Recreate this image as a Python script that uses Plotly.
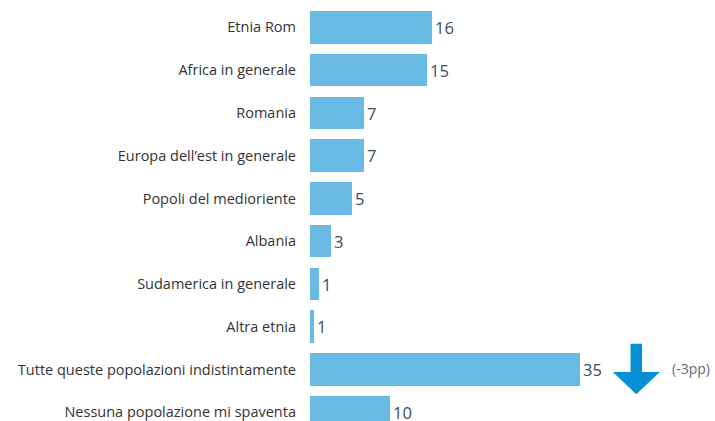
import plotly.graph_objects as go

categories = [
    "Etnia Rom",
    "Africa in generale",
    "Romania",
    "Europa dell\u2019est in generale",
    "Popoli del medioriente",
    "Albania",
    "Sudamerica in generale",
    "Altra etnia",
    "Tutte queste popolazioni indistintamente",
    "Nessuna popolazione mi spaventa",
]
values = [15.8, 15.2, 7.0, 7.0, 5.4, 2.7, 1.2, 0.5, 35.0, 10.4]
value_labels = ["16", "15", "7", "7", "5", "3", "1", "1", "35", "10"]
change_label = "(-3pp)"
change_category = "Tutte queste popolazioni indistintamente"

BAR = "#69bbe6"
ARROW = "#0890d6"
FONT = "Open Sans"

fig = go.Figure()
fig.add_trace(go.Bar(
    y=categories, x=values, orientation="h",
    marker=dict(color=BAR, line=dict(width=0)),
    width=0.76,
    text=value_labels, textposition="outside",
    textfont=dict(family=FONT, size=16.5, color="#3b4d5a"),
    cliponaxis=False,
    hoverinfo="skip",
))

idx = categories.index(change_category)
xc = 42.3  # arrow centre in x units
path = (
    f"M {xc-0.75},{idx-0.6} L {xc+0.75},{idx-0.6} L {xc+0.75},{idx+0.06} "
    f"L {xc+3.05},{idx+0.06} L {xc},{idx+0.58} L {xc-3.05},{idx+0.06} "
    f"L {xc-0.75},{idx+0.06} Z"
)

fig.update_layout(
    width=715, height=421,
    margin=dict(l=310, r=0, t=6, b=0),
    paper_bgcolor="white", plot_bgcolor="white",
    showlegend=False,
    font=dict(family=FONT),
    bargap=0,
    xaxis=dict(range=[0, 52.5], visible=False, showgrid=False, zeroline=False),
    yaxis=dict(
        type="category",
        categoryorder="array", categoryarray=categories,
        range=[9.205, -0.5],
        showgrid=False, zeroline=False, showline=False,
        ticks="", ticklabelstandoff=13,
        tickfont=dict(family=FONT, size=14.5, color="#333333"),
    ),
    annotations=[dict(
        x=xc + 7.05, y=idx - 0.02, xref="x", yref="y",
        text=change_label, showarrow=False,
        font=dict(family=FONT, size=14, color="#5c6b78"),
        xanchor="center", yanchor="middle",
    )],
)
fig.add_shape(type="path", path=path, xref="x", yref="y",
              fillcolor=ARROW, line=dict(width=0))

fig.write_html(
    "out.html",
    config={"displayModeBar": False},
    post_script="document.body.style.margin='0';document.body.style.overflow='hidden';",
)
